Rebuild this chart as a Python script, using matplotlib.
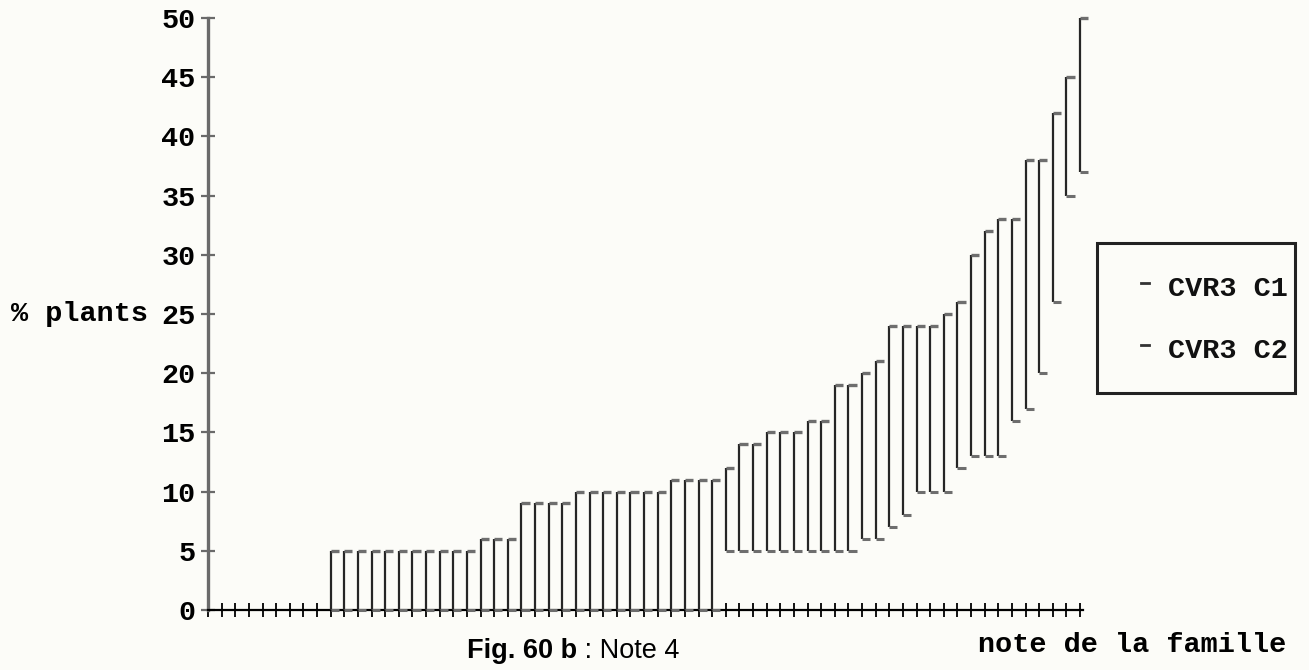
import matplotlib
matplotlib.use("Agg")
import matplotlib.pyplot as plt
from matplotlib.lines import Line2D
from matplotlib.patches import Rectangle

# Families along the x axis (rank order), and the % of plants in each clone
families = list(range(1, 65))
cvr3_c1 = ([0] * 8 + [5] * 11 + [6] * 3 + [9] * 4 + [10] * 7 + [11] * 4 +
           [12, 14, 14, 15, 15, 15, 16, 16, 19, 19, 20, 21, 24, 24, 24, 24,
            25, 26, 30, 32, 33, 33, 38, 38, 42, 45, 50])
cvr3_c2 = ([0] * 8 + [0] * 29 + [5] * 10 +
           [6, 6, 7, 8, 10, 10, 10, 12, 13, 13, 13, 16, 17, 20, 26, 35, 37])
y_ticks = [0, 5, 10, 15, 20, 25, 30, 35, 40, 45, 50]
series_labels = ["CVR3 C1", "CVR3 C2"]

W, H = 1309, 670
BG = "#fcfcf8"
MONO = "Liberation Mono"

fig = plt.figure(figsize=(W / 100, H / 100), dpi=100, facecolor=BG)


def fx(px):
    return px / W


def fy(py):
    return 1 - py / H


# axes: x=0 at 208 px, x=64 at 1080 px ; y=0 at 610 px, y=50 at 18 px
x_max = 64.25
unit = (1080 - 208) / 64
ax = fig.add_axes([fx(208), fy(610), (x_max * unit) / W, (610 - 18) / H])
ax.set_facecolor(BG)
ax.set_xlim(0, x_max)
ax.set_ylim(0, 50)

cap = 0.6
for x, hi, lo in zip(families, cvr3_c1, cvr3_c2):
    if hi <= 0:
        continue
    ax.vlines(x, lo, hi, colors="#262626", lw=1.6, clip_on=False, zorder=3)
    ax.hlines(hi, x, x + cap, colors="#6e6e6e", lw=2.4, clip_on=False, zorder=3)
    ax.hlines(lo, x, x + cap, colors="#6e6e6e", lw=2.2, clip_on=False, zorder=3)

for s in ("top", "right"):
    ax.spines[s].set_visible(False)
ax.spines["bottom"].set_color("black")
ax.spines["bottom"].set_linewidth(1.6)
ax.spines["left"].set_color("#6a6a6a")
ax.spines["left"].set_linewidth(2.4)

ax.set_xticks(range(0, 65))
ax.tick_params(axis="x", direction="inout", length=10, width=1.3,
               color="black", labelbottom=False)
ax.set_yticks(y_ticks)
ax.set_yticklabels([str(v) for v in y_ticks], family=MONO,
                   fontweight="bold", fontsize=20.5)
ax.tick_params(axis="y", direction="inout", length=10, width=1.6,
               color="#6a6a6a", pad=4)

ax.set_ylabel("% plants", family=MONO, fontweight="bold", fontsize=20.5,
              rotation=0, ha="right", va="center")
ax.yaxis.set_label_coords((148 - 208) / (x_max * unit), 0.5)

# legend box
fig.patches.append(Rectangle((fx(1097), fy(393)), (1295 - 1097) / W,
                             (393 - 243) / H, transform=fig.transFigure,
                             fill=False, edgecolor="#222222", lw=2.2))
for label, py in zip(series_labels, (289, 351)):
    fig.lines.append(Line2D([fx(1141), fx(1149)], [fy(py - 6), fy(py - 6)],
                            transform=fig.transFigure, color="#333333", lw=2))
    fig.text(fx(1168), fy(py), label, family=MONO, fontweight="bold",
             fontsize=20.5, ha="left", va="center", color="#111111")

fig.text(fx(577), fy(658), "Fig. 60 b", family="Liberation Sans",
         fontweight="bold", fontsize=19.5, ha="right", va="baseline")
fig.text(fx(577), fy(658), " : Note 4", family="Liberation Sans",
         fontsize=19.5, ha="left", va="baseline")
fig.text(fx(978), fy(652), "note de la famille", family=MONO,
         fontweight="bold", fontsize=20.5, ha="left", va="baseline")

fig.savefig("out.png", dpi=100, facecolor=BG)
